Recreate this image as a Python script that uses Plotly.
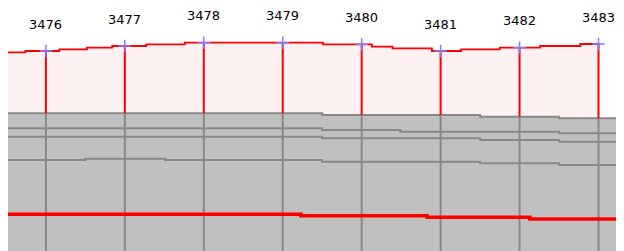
import plotly.graph_objects as go

# ---- data (chainage along x, depth below datum in y) ----
stations = [3476, 3477, 3478, 3479, 3480, 3481, 3482, 3483]
station_labels = ["3476", "3477", "3478", "3479", "3480", "3481", "3482", "3483"]
station_depth = [51.0, 46.0, 42.7, 42.7, 44.3, 51.0, 47.7, 44.0]

surface_x = [3475.52, 3475.74, 3476.17, 3476.52, 3476.84, 3477.27, 3477.76,
             3479.51, 3480.13, 3480.39, 3480.89, 3481.26, 3481.75, 3482.26,
             3482.77, 3483.02]
surface_y = [52.3, 51.0, 49.3, 47.7, 46.0, 44.3, 42.7,
             44.3, 46.7, 48.3, 51.0, 49.3, 47.7, 46.0,
             44.0, 44.0]

layer1_x = [3475.52, 3479.50, 3481.50, 3482.50, 3483.45]
layer1_y = [113.3, 115.0, 116.7, 118.3, 118.3]
layer2_x = [3475.52, 3479.50, 3480.49, 3482.50, 3483.45]
layer2_y = [128.3, 130.0, 131.7, 133.3, 133.3]
layer3_x = [3475.52, 3479.50, 3481.50, 3482.50, 3483.45]
layer3_y = [136.7, 138.3, 140.0, 141.7, 141.7]
layer4_x = [3475.52, 3476.50, 3477.51, 3479.50, 3481.50, 3482.50, 3483.45]
layer4_y = [160.0, 158.7, 160.0, 161.7, 163.3, 165.0, 165.0]

water_x = [3475.52, 3479.23, 3480.83, 3482.13, 3483.30, 3483.45]
water_y = [214.3, 215.7, 217.3, 219.0, 220.0, 220.0]

bottom_depth = 265.0

# ---- styles ----
RED = "#ff0000"
PINK = "#fdf1f1"
GREY = "#c0c0c0"
DARK = "#888888"
BLUE = "#8080ff"

fig = go.Figure()


def step_value(xs, ys, x):
    v = ys[0]
    for xi, yi in zip(xs, ys):
        if xi <= x:
            v = yi
    return v


# pink band under the surface
fig.add_trace(go.Scatter(
    x=surface_x + [surface_x[-1], surface_x[0]],
    y=surface_y + [layer1_y[-1] + 10, layer1_y[-1] + 10],
    mode="lines", line=dict(shape="hv", width=0), fill="toself",
    fillcolor=PINK, hoverinfo="skip", showlegend=False))

# grey ground body
fig.add_trace(go.Scatter(
    x=layer1_x + [layer1_x[-1], layer1_x[0]],
    y=layer1_y + [bottom_depth, bottom_depth],
    mode="lines", line=dict(shape="hv", width=0), fill="toself",
    fillcolor=GREY, hoverinfo="skip", showlegend=False))

# layer boundaries
for lx, ly in [(layer1_x, layer1_y), (layer2_x, layer2_y),
               (layer3_x, layer3_y), (layer4_x, layer4_y)]:
    fig.add_trace(go.Scatter(x=lx, y=ly, mode="lines",
                             line=dict(shape="hv", color=DARK, width=2),
                             hoverinfo="skip", showlegend=False))

# vertical station lines
for s, d in zip(stations, station_depth):
    top = step_value(layer1_x, layer1_y, s)
    fig.add_trace(go.Scatter(x=[s, s], y=[top, bottom_depth], mode="lines",
                             line=dict(color=DARK, width=2),
                             hoverinfo="skip", showlegend=False))
    fig.add_trace(go.Scatter(x=[s, s], y=[d, top], mode="lines",
                             line=dict(color=RED, width=2),
                             hoverinfo="skip", showlegend=False))

# surface line
fig.add_trace(go.Scatter(x=surface_x, y=surface_y, mode="lines",
                         line=dict(shape="hv", color=RED, width=1.8),
                         hoverinfo="skip", showlegend=False))

# thick red line
fig.add_trace(go.Scatter(x=water_x, y=water_y, mode="lines",
                         line=dict(shape="hv", color=RED, width=3.5),
                         hoverinfo="skip", showlegend=False))

# station markers
fig.add_trace(go.Scatter(x=stations, y=station_depth, mode="markers",
                         marker=dict(symbol="cross-thin", size=9,
                                     line=dict(color=BLUE, width=1.5)),
                         hoverinfo="skip", showlegend=False))

for s, d, t in zip(stations, station_depth, station_labels):
    fig.add_annotation(x=s, y=d, text=t, showarrow=False, yshift=27,
                       xanchor="center", yanchor="middle",
                       font=dict(family="DejaVu Sans", size=13, color="#000000"))

# The page body adds an 8 px margin, so the plot area starts at screen (8, 8).
fig.update_layout(
    width=624, height=251,
    margin=dict(l=0, r=0, t=0, b=0, pad=0),
    paper_bgcolor="white", plot_bgcolor="white",
    xaxis=dict(range=[3475.52, 3483.4244], visible=False, showgrid=False,
               zeroline=False),
    yaxis=dict(range=[259, 8], visible=False, showgrid=False, zeroline=False),
)

fig.write_html("out.html")
